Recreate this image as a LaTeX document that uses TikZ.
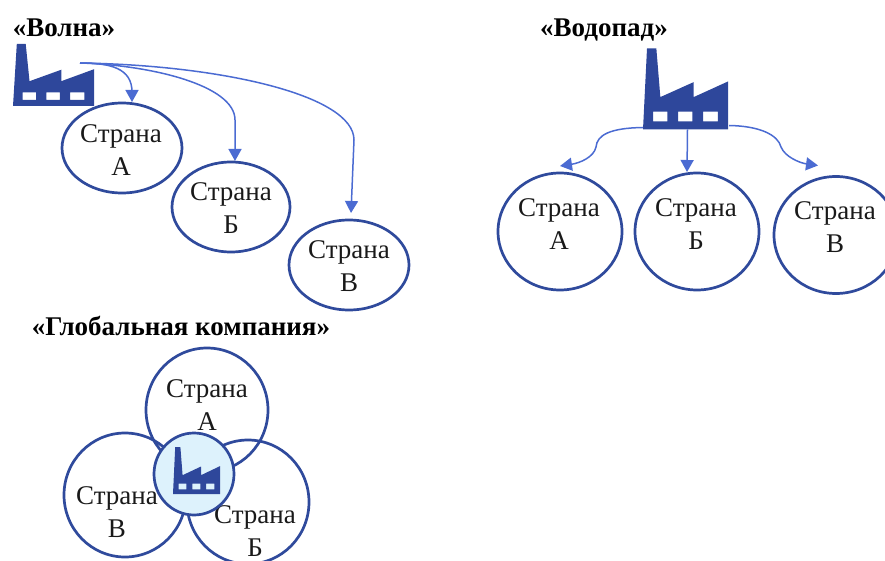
\documentclass[tikz,border=0pt]{standalone}
\usepackage{fontspec}
\setmainfont{Liberation Serif}
\usetikzlibrary{shapes.geometric,arrows.meta}
\definecolor{rim}{HTML}{2F4A9C}
\definecolor{fact}{HTML}{2E479B}
\definecolor{arrowc}{HTML}{4B6BD2}
\definecolor{hub}{HTML}{DDF2FC}
\tikzset{
  x=1pt,y=-1pt,
  oval/.style 2 args={ellipse,draw=rim,line width=2.7pt,inner sep=0pt,outer sep=0pt,minimum width=#1pt,minimum height=#2pt},
  hubdisc/.style={oval={80}{82},fill=hub},
  lbl/.style={font=\fontsize{27}{33.5}\selectfont,align=center,inner sep=0pt,text=black!90},
  ttl/.style={font=\bfseries\fontsize{27}{29}\selectfont,inner sep=0pt,text=black},
  link/.style={draw=arrowc,line width=1.5pt,-{Triangle[length=12pt,width=13pt]}},
  factory/.style 2 args={rectangle,draw=none,inner sep=0pt,outer sep=0pt,minimum width=#1pt,minimum height=#2pt}
}
\newcommand{\factoryshape}[3]{%
  \begin{scope}[shift={(#1.north west)},x=#2pt,y=-#3pt]
  \fill[fact,even odd rule] (0.047,0)--(0.157,0)--(0.204,0.6)--(0.596,0.415)--(0.596,0.6)--(1,0.407)--(1,1)--(0,1)--cycle
    (0.118,0.78) rectangle (0.286,0.90)
    (0.412,0.78) rectangle (0.58,0.90)
    (0.706,0.78) rectangle (0.882,0.90);
  \end{scope}}
\begin{document}
\begin{tikzpicture}
\useasboundingbox (0,0) rectangle (885,561);
% Волна
\node[ttl] (t1) at (64,28) {«Волна»};
\node[factory={81}{62}] (f1) at (53.5,75) {};
\factoryshape{f1}{81}{62}
\node[oval={120}{90}] (wa) at (122,148) {};
\node[oval={118}{90}] (wb) at (231,207) {};
\node[oval={120}{90}] (wc) at (349,265) {};
\node[lbl] (wal) at (121,150) {Страна\\А};
\node[lbl] (wbl) at (231,208) {Страна\\Б};
\node[lbl] (wcl) at (349,266) {Страна\\В};
\coordinate (wsrc) at ([xshift=-14pt,yshift=12pt]f1.east);
\draw[link] (wsrc) .. controls (110,63) and (132,68) .. (132,92) -- ([xshift=10pt,yshift=1pt]wa.north);
\draw[link] (wsrc) .. controls (150,65) and (235,85) .. (235,120) -- ([xshift=4pt,yshift=1pt]wb.north);
\draw[link] (wsrc) .. controls (220,65) and (354,95) .. (354,140) -- ([xshift=2pt,yshift=7pt]wc.north);
% Водопад
\node[ttl] (t2) at (604,30) {«Водопад»};
\node[factory={85}{81}] (f2) at (685.5,89) {};
\factoryshape{f2}{85}{81}
\node[oval={124}{117}] (ca) at (560,231.5) {};
\node[oval={124}{117}] (cb) at (697,231.5) {};
\node[oval={124}{117}] (cc) at (836,235) {};
\node[lbl] (cal) at (559,224) {Страна\\А};
\node[lbl] (cbl) at (696,224) {Страна\\Б};
\node[lbl] (ccl) at (835,227) {Страна\\В};
\draw[link] ([yshift=2pt]f2.south west) .. controls (610,128) and (597,135) .. (596,147) .. controls (594,157) and (580,163) .. ([yshift=7pt]ca.north);
\draw[link] ([xshift=2pt]f2.south) -- ([yshift=1pt,xshift=-10pt]cb.north);
\draw[link] ([yshift=4pt,xshift=1pt]f2.south east) .. controls (760,126) and (778,135) .. (781,147) .. controls (785,157) and (800,163) .. ([xshift=-18pt,yshift=11pt]cc.north);
% Глобальная компания
\node[ttl] (t3) at (181,326) {«Глобальная компания»};
\node[oval={122}{124}] (ga) at (207,410) {};
\node[oval={122}{124}] (gv) at (125,495) {};
\node[oval={122}{124}] (gb) at (248,502) {};
\node[lbl] (gal) at (207,405) {Страна\\А};
\node[lbl] (gvl) at (117,512) {Страна\\В};
\node[lbl] (gbl) at (255,531) {Страна\\Б};
\node[hubdisc] (hub) at (194,474) {};
\node[factory={47}{47}] (f3) at (196.5,470.5) {};
\factoryshape{f3}{47}{47}
\end{tikzpicture}
\end{document}
